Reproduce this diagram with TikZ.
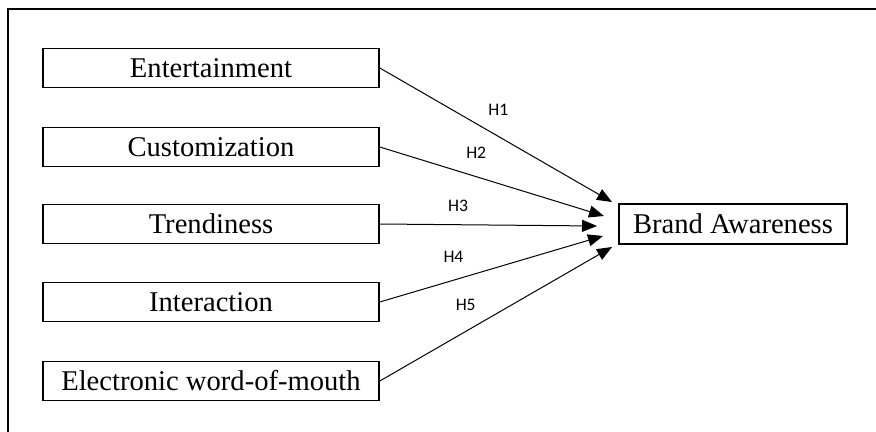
\documentclass[tikz,border=0pt]{standalone}
\usepackage{fontspec}
\setmainfont{Liberation Serif}
\newfontfamily\hfont{Carlito}
\usetikzlibrary{arrows.meta}

\begin{document}
\begin{tikzpicture}[x=0.5pt, y=-0.5pt, line width=0.5pt, % 1単位=1px、y軸は下向き
  box/.style={draw, line width=0.8pt, minimum width=168pt, minimum height=19.5pt, inner sep=0pt, font=\fontsize{14.3}{16}\selectfont},
  hyp/.style={font=\hfont\fontsize{8.8}{10}\selectfont},
  >={Triangle[length=7.5pt, width=6pt]}]
  \useasboundingbox (0,0) rectangle (876,432); % 余白
  \draw[line width=1pt] (876,9.5) -- (8,9.5) -- (8,432); % 外枠、上と左のみ
  \node[box] (ent) at (211,68) {Entertainment}; % 要因
  \node[box] (cus) at (211,147) {Customization};
  \node[box] (tre) at (211,224) {Trendiness};
  \node[box] (int) at (211,302) {Interaction};
  \node[box] (ewom) at (211,381) {Electronic word-of-mouth};
  \node[box, minimum width=114pt, minimum height=20pt] (ba) at (733,224) {Brand Awareness}; % 結果
  \coordinate (t1) at (612,202); % 矢印の先端
  \coordinate (t2) at (604,216);
  \coordinate (t3) at (597,226);
  \coordinate (t4) at (603,236);
  \coordinate (t5) at (612,247);
  \draw[->] (ent.east) -- (t1) node[hyp, pos=.51, yshift=13pt] {H1};
  \draw[->] (cus.east) -- (t2) node[hyp, pos=.43, yshift=12pt] {H2};
  \draw[->] (tre.east) -- (t3) node[hyp, pos=.36, yshift=9.5pt] {H3};
  \draw[->] (int.east) -- (t4) node[hyp, pos=.33, yshift=11.5pt] {H4};
  \draw[->] (ewom.east) -- (t5) node[hyp, pos=.37, yshift=13.5pt] {H5};
\end{tikzpicture}
\end{document}
